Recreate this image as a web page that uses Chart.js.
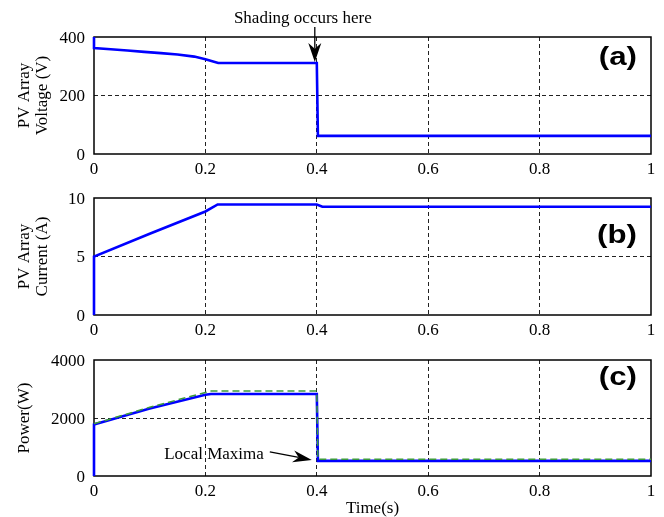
<!DOCTYPE html>
<html>
<head>
<meta charset="utf-8">
<script src="https://cdn.jsdelivr.net/npm/chart.js@4/dist/chart.umd.min.js"></script>
<style>
  body { margin: 0; background: #fff; }
  #wrap { position: relative; width: 664px; height: 517px; }
  canvas { position: absolute; left: 0; }
</style>
</head>
<body>
<div id="wrap">
  <canvas id="voltageChart" width="664" height="176" style="top:0px"></canvas>
  <canvas id="currentChart" width="664" height="164" style="top:176px"></canvas>
  <canvas id="powerChart" width="664" height="177" style="top:340px"></canvas>
</div>
<script>
// tick values
var xTicks = [0, 0.2, 0.4, 0.6, 0.8, 1];
var voltTicks = [0, 200, 400];
var currTicks = [0, 5, 10];
var powTicks = [0, 2000, 4000];

// (a) PV array voltage
var timeV = [0, 0, 0.03, 0.06, 0.09, 0.12, 0.15, 0.18, 0.2, 0.223, 0.4, 0.402, 1];
var voltage = [400, 362, 358, 354, 349, 345, 340, 333, 324, 311, 311, 62, 62];

// (b) PV array current
var timeI = [0, 0, 0.1, 0.2, 0.222, 0.4, 0.41, 1];
var current = [0, 5.0, 6.95, 8.85, 9.45, 9.45, 9.25, 9.25];

// (c) power, measured (blue) and available maximum (green dashed)
var timeP = [0, 0, 0.1, 0.2, 0.21, 0.4, 0.402, 1];
var powerPV = [0, 1780, 2330, 2800, 2830, 2830, 520, 520];
var timeRef = [0, 0.1, 0.2, 0.21, 0.4, 0.402, 1];
var powerRef = [1800, 2370, 2880, 2930, 2930, 575, 575];

var serif = "'Liberation Serif', 'Times New Roman', serif";

function pts(xs, ys) {
  return xs.map(function (x, i) { return { x: x, y: ys[i] }; });
}

function drawArrow(ctx, x1, y1, x2, y2, L, W) {
  var a = Math.atan2(y2 - y1, x2 - x1);
  var c = Math.cos(a), s = Math.sin(a);
  var notch = L * 0.3;
  ctx.beginPath();
  ctx.moveTo(x1, y1);
  ctx.lineTo(x2 - c * (L - notch), y2 - s * (L - notch));
  ctx.stroke();
  ctx.beginPath();
  ctx.moveTo(x2, y2);
  ctx.lineTo(x2 - L * c + W * s, y2 - L * s - W * c);
  ctx.lineTo(x2 - (L - notch) * c, y2 - (L - notch) * s);
  ctx.lineTo(x2 - L * c - W * s, y2 - L * s + W * c);
  ctx.closePath();
  ctx.fill();
}

var panelDecor = {
  id: "panelDecor",
  beforeDatasetsDraw: function (chart) {
    var ctx = chart.ctx, a = chart.chartArea;
    ctx.save();
    ctx.strokeStyle = "#000";
    ctx.lineWidth = 1.5;
    ctx.strokeRect(a.left, a.top, a.right - a.left, a.bottom - a.top);
    ctx.restore();
  },
  afterDraw: function (chart, args, opts) {
    var ctx = chart.ctx, a = chart.chartArea;
    ctx.save();
    ctx.fillStyle = "#000";
    ctx.strokeStyle = "#000";
    // panel tag, slightly widened like the original figure
    ctx.save();
    ctx.translate(a.right - 14, a.top + opts.labelDy);
    ctx.scale(1.25, 1);
    ctx.font = "bold 25px 'Liberation Sans', Arial, sans-serif";
    ctx.textAlign = "right";
    ctx.textBaseline = "middle";
    ctx.fillText(opts.label, 0, 0);
    ctx.restore();
    if (opts.arrow) {
      var ar = opts.arrow;
      var tipX = chart.scales.x.getPixelForValue(ar.x) + ar.dx;
      var tipY = chart.scales.y.getPixelForValue(ar.y) + ar.dy;
      var tailX = tipX + ar.tailDx, tailY = tipY + ar.tailDy;
      ctx.lineWidth = 1.3;
      drawArrow(ctx, tailX, tailY, tipX, tipY, ar.headL, ar.headW);
      ctx.font = "17px " + serif;
      ctx.textAlign = ar.align;
      ctx.textBaseline = "middle";
      ctx.fillText(ar.text, tailX + ar.textDx, tailY + ar.textDy);
    }
    ctx.restore();
  }
};

function gridColor(min, max) {
  return function (c) {
    if (c.tick && (c.tick.value === min || c.tick.value === max)) return "rgba(0,0,0,0)";
    return "#222";
  };
}

function panelOptions(p) {
  var yMin = p.yTicks[0], yMax = p.yTicks[p.yTicks.length - 1];
  return {
    responsive: false,
    animation: false,
    devicePixelRatio: 1,
    layout: { padding: { top: p.top, right: 13, left: 0, bottom: 0 } },
    plugins: {
      legend: { display: false },
      tooltip: { enabled: false },
      panelDecor: p.decor
    },
    scales: {
      x: {
        type: "linear",
        min: 0,
        max: 1,
        afterBuildTicks: function (s) { s.ticks = xTicks.map(function (v) { return { value: v }; }); },
        afterFit: function (s) { s.height = p.xHeight; },
        ticks: {
          color: "#000",
          padding: 5,
          maxRotation: 0,
          autoSkip: false,
          font: { family: serif, size: 17 },
          callback: function (v) { return String(v); }
        },
        grid: { drawTicks: false, color: gridColor(0, 1), lineWidth: 1 },
        border: { display: false, dash: [4, 3] },
        title: p.xTitle ? {
          display: true,
          text: p.xTitle,
          color: "#000",
          padding: { top: 0, bottom: 0 },
          font: { family: serif, size: 17, lineHeight: 1 }
        } : { display: false }
      },
      y: {
        min: yMin,
        max: yMax,
        afterBuildTicks: function (s) { s.ticks = p.yTicks.map(function (v) { return { value: v }; }); },
        afterFit: function (s) { s.width = 94; },
        ticks: {
          color: "#000",
          padding: 9,
          labelOffset: 1.5,
          font: { family: serif, size: 17 },
          callback: function (v) { return String(v); }
        },
        grid: { drawTicks: false, color: gridColor(yMin, yMax), lineWidth: 1 },
        border: { display: false, dash: [4, 3] },
        title: {
          display: true,
          text: p.yTitle,
          color: "#000",
          padding: { top: 16, bottom: 0 },
          font: { family: serif, size: 17, lineHeight: 1.05 }
        }
      }
    }
  };
}

function blueLine(data) {
  return {
    data: data,
    borderColor: "#0000ff",
    borderWidth: 2.6,
    pointRadius: 0,
    tension: 0,
    clip: 3
  };
}

new Chart(document.getElementById("voltageChart"), {
  type: "line",
  data: { datasets: [blueLine(pts(timeV, voltage))] },
  options: panelOptions({
    top: 37, xHeight: 22, yTicks: voltTicks,
    yTitle: ["PV Array", "Voltage (V)"],
    decor: {
      label: "(a)", labelDy: 21,
      arrow: { x: 0.4, y: 311, dx: -2, dy: -1, tailDx: 0, tailDy: -35, headL: 19, headW: 6.5,
               text: "Shading occurs here", align: "center", textDx: -12, textDy: -9 }
    }
  }),
  plugins: [panelDecor]
});

new Chart(document.getElementById("currentChart"), {
  type: "line",
  data: { datasets: [blueLine(pts(timeI, current))] },
  options: panelOptions({
    top: 22, xHeight: 25, yTicks: currTicks,
    yTitle: ["PV Array", "Current (A)"],
    decor: { label: "(b)", labelDy: 38 }
  }),
  plugins: [panelDecor]
});

new Chart(document.getElementById("powerChart"), {
  type: "line",
  data: {
    datasets: [
      {
        data: pts(timeRef, powerRef),
        borderColor: "#3c9a3c",
        borderWidth: 1.5,
        borderDash: [7, 4],
        pointRadius: 0,
        tension: 0,
        clip: 3
      },
      blueLine(pts(timeP, powerPV))
    ]
  },
  options: panelOptions({
    top: 20, xHeight: 41, yTicks: powTicks,
    yTitle: "Power(W)", xTitle: "Time(s)",
    decor: {
      label: "(c)", labelDy: 18,
      arrow: { x: 0.4, y: 520, dx: -5, dy: -1, tailDx: -42, tailDy: -8, headL: 19, headW: 6,
               text: "Local Maxima", align: "right", textDx: -6, textDy: 3 }
    }
  }),
  plugins: [panelDecor]
});
</script>
</body>
</html>
